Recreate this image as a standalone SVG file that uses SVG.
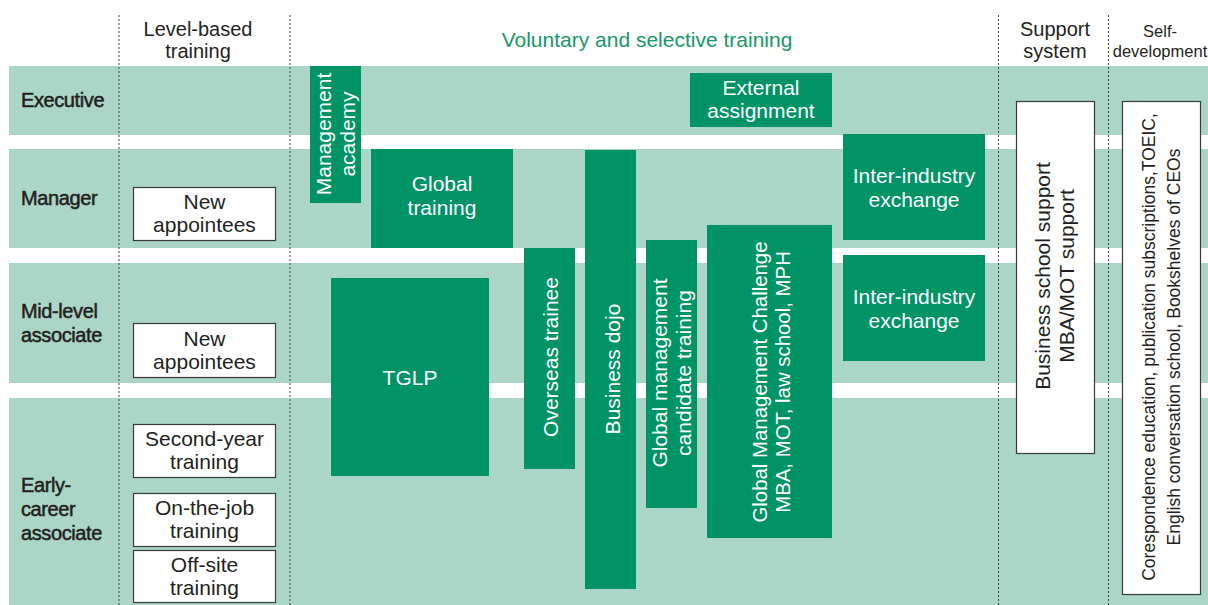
<svg xmlns="http://www.w3.org/2000/svg" width="1208" height="605" viewBox="0 0 1208 605">
<style>
text{font-family:"Liberation Sans",Arial,sans-serif;}
.band{fill:#abd5c7;}
.div{stroke:#444;stroke-width:1;stroke-dasharray:2 2;fill:none;}
.hdr{font-size:20px;fill:#231f20;text-anchor:middle;}
.hdrg{font-size:21px;fill:#139a64;text-anchor:middle;}
.row{font-size:20px;fill:#231f20;stroke:#231f20;stroke-width:0.5;letter-spacing:-0.4px;}
.wbox{fill:#fff;stroke:#3a3a3a;stroke-width:1.2;}
.gbox{fill:#009366;}
.wt{font-size:21px;fill:#231f20;text-anchor:middle;}
.gt{font-size:21px;fill:#fff;text-anchor:middle;}
</style>
<rect width="1208" height="605" fill="#fff"/>
<g id="bands">
<rect class="band" x="9" y="66" width="1199" height="69"/>
<rect class="band" x="9" y="149" width="1199" height="99"/>
<rect class="band" x="9" y="263" width="1199" height="120"/>
<rect class="band" x="9" y="398" width="1199" height="207"/>
</g>
<g id="dividers">
<line class="div" x1="119" y1="15" x2="119" y2="605"/>
<line class="div" x1="290" y1="15" x2="290" y2="605"/>
<line class="div" x1="998.5" y1="15" x2="998.5" y2="605"/>
<line class="div" x1="1108.5" y1="15" x2="1108.5" y2="605"/>
</g>
<g id="headers">
<text class="hdr" x="198" y="36">Level-based</text>
<text class="hdr" x="198" y="57.5">training</text>
<text class="hdrg" x="647" y="47">Voluntary and selective training</text>
<text class="hdr" x="1055" y="36">Support</text>
<text class="hdr" x="1055" y="57.5">system</text>
<text class="hdr" x="1160" y="37" style="font-size:16.5px">Self-</text>
<text class="hdr" x="1160" y="57" style="font-size:16.5px">development</text>
</g>
<g id="row-labels">
<text class="row" x="21" y="107">Executive</text>
<text class="row" x="21" y="205">Manager</text>
<text class="row" x="21" y="318">Mid-level</text>
<text class="row" x="21" y="342">associate</text>
<text class="row" x="21" y="492">Early-</text>
<text class="row" x="21" y="516">career</text>
<text class="row" x="21" y="540">associate</text>
</g>
<g id="new-appointees-manager">
<rect class="wbox" x="133.5" y="187.5" width="142" height="53"/>
<text class="wt" x="204.5" y="209">New</text>
<text class="wt" x="204.5" y="232">appointees</text>
</g>
<g id="new-appointees-mid">
<rect class="wbox" x="133.5" y="323.5" width="142" height="54"/>
<text class="wt" x="204.5" y="346">New</text>
<text class="wt" x="204.5" y="369">appointees</text>
</g>
<g id="second-year">
<rect class="wbox" x="133.5" y="424.5" width="142" height="53"/>
<text class="wt" x="204.5" y="446">Second-year</text>
<text class="wt" x="204.5" y="469">training</text>
</g>
<g id="on-the-job">
<rect class="wbox" x="133.5" y="493.5" width="142" height="53"/>
<text class="wt" x="204.5" y="515">On-the-job</text>
<text class="wt" x="204.5" y="538">training</text>
</g>
<g id="off-site">
<rect class="wbox" x="133.5" y="550.5" width="142" height="52"/>
<text class="wt" x="204.5" y="572">Off-site</text>
<text class="wt" x="204.5" y="595">training</text>
</g>
<g id="management-academy">
<rect class="gbox" x="310" y="66" width="51" height="137"/>
<text class="gt" transform="translate(331,134) rotate(-90)"><tspan x="0" y="0">Management</tspan><tspan x="0" y="24">academy</tspan></text>
</g>
<g id="global-training">
<rect class="gbox" x="371" y="149" width="142" height="99"/>
<text class="gt" x="442" y="191">Global</text>
<text class="gt" x="442" y="215">training</text>
</g>
<g id="external-assignment">
<rect class="gbox" x="690" y="73" width="142" height="54"/>
<text class="gt" x="761" y="95">External</text>
<text class="gt" x="761" y="118">assignment</text>
</g>
<g id="inter-industry-1">
<rect class="gbox" x="843" y="134" width="142" height="106"/>
<text class="gt" x="914" y="183">Inter-industry</text>
<text class="gt" x="914" y="207">exchange</text>
</g>
<g id="inter-industry-2">
<rect class="gbox" x="843" y="255" width="142" height="106"/>
<text class="gt" x="914" y="304">Inter-industry</text>
<text class="gt" x="914" y="328">exchange</text>
</g>
<g id="tglp">
<rect class="gbox" x="331" y="278" width="158" height="198"/>
<text class="gt" x="410" y="385">TGLP</text>
</g>
<g id="overseas-trainee">
<rect class="gbox" x="524" y="248" width="51" height="221"/>
<text class="gt" transform="translate(558,357) rotate(-90)">Overseas trainee</text>
</g>
<g id="business-dojo">
<rect class="gbox" x="585" y="150" width="51" height="439"/>
<text class="gt" transform="translate(620,369) rotate(-90)">Business dojo</text>
</g>
<g id="global-management-candidate">
<rect class="gbox" x="646" y="240" width="51" height="268"/>
<text class="gt" transform="translate(667,373) rotate(-90)"><tspan x="0" y="0">Global management</tspan><tspan x="0" y="24">candidate training</tspan></text>
</g>
<g id="global-management-challenge">
<rect class="gbox" x="707" y="225" width="125" height="313"/>
<text class="gt" transform="translate(767,382) rotate(-90)" style="font-size:20.4px"><tspan x="0" y="0">Global Management Challenge</tspan><tspan x="0" y="23">MBA, MOT, law school, MPH</tspan></text>
</g>
<g id="business-school-support">
<rect class="wbox" x="1016.5" y="101.5" width="78" height="352"/>
<text class="wt" transform="translate(1050,276) rotate(-90)"><tspan x="0" y="0">Business school support</tspan><tspan x="0" y="24">MBA/MOT support</tspan></text>
</g>
<g id="self-development">
<rect class="wbox" x="1122.5" y="101.5" width="78" height="493"/>
<text class="wt" transform="translate(1155,347) rotate(-90)" style="font-size:17.5px"><tspan x="0" y="0">Corespondence education, publication subscriptions,TOEIC,</tspan><tspan x="0" y="25">English conversation school, Bookshelves of CEOs</tspan></text>
</g>
<g id="connectors"/>
</svg>
